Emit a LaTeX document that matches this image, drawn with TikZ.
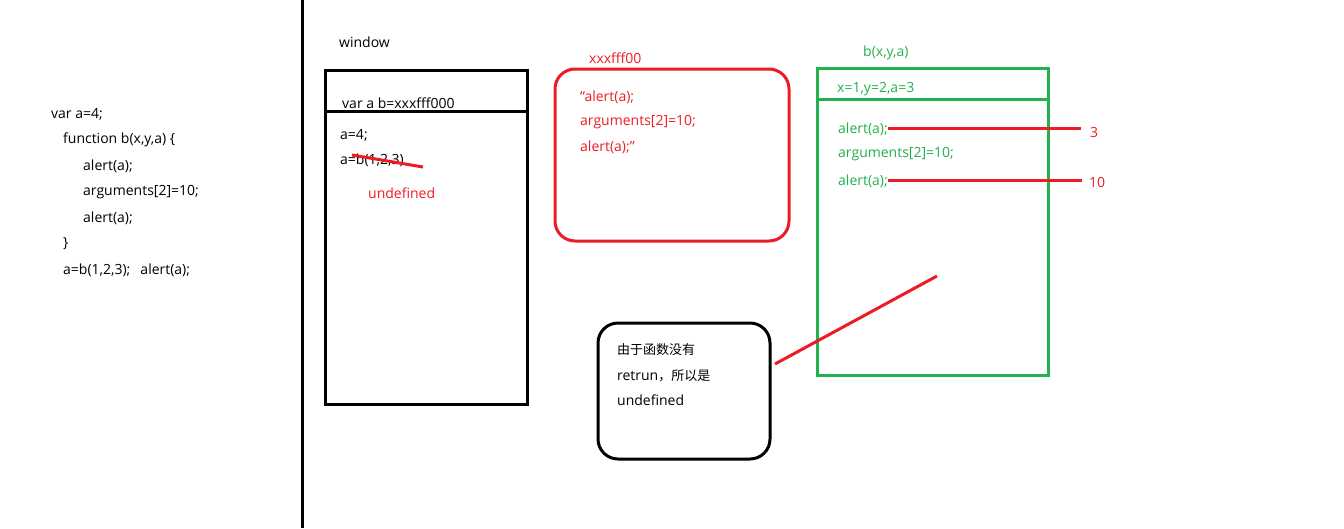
\documentclass[tikz,border=0pt]{standalone}
\usepackage{fontspec}
\setmainfont{Open Sans}
\newfontfamily\cjk{Noto Sans CJK SC}
\definecolor{pred}{HTML}{ED1C24}
\definecolor{pgreen}{HTML}{22B14C}
\newcommand\cjkt{\cjk\fontsize{13}{15}\selectfont}
\begin{document}
\begin{tikzpicture}[x=1pt,y=-1pt,
  txt/.style={anchor=west,inner sep=0pt,font=\fontsize{14}{16}\selectfont},
  rtxt/.style={txt,text=pred},
  gtxt/.style={txt,text=pgreen},
  bbox/.style={draw=black,line width=3pt},
  rline/.style={draw=pred,line width=3pt}]
\useasboundingbox (0,0) rectangle (1344,528);
% divider
\coordinate (dt) at (302,0); \coordinate (db) at (302,528);
\draw[line width=3pt] (dt) -- (db);
% left code
\node[txt] (c1) at (51,114) {var a=4;};
\node[txt] (c2) at (63,140) {function b(x,y,a) \{};
\node[txt] (c3) at (83,166) {alert(a);};
\node[txt] (c4) at (83,192) {arguments[2]=10;};
\node[txt] (c5) at (83,218) {alert(a);};
\node[txt] (c6) at (63,244) {\}};
\node[txt] (c7) at (63,270) {a=b(1,2,3);\hspace{10pt}alert(a);};
% window box
\node[txt] (wl) at (339,42) {window};
\draw[bbox] (325,70) rectangle (527,404);
\draw[bbox] (325,111) -- (527,111);
\node[txt] (w1) at (342,103) {var a b=xxxfff000};
\node[txt] (w2) at (340,135) {a=4;};
\node[txt] (w3) at (340,160) {a=b(1,2,3)};
\coordinate (s1) at (352,155); \coordinate (s2) at (423,167);
\draw[rline] (s1) -- (s2);
\node[rtxt] (w4) at (368,193) {undefined};
% red function box
\node[rtxt] (fl) at (589,58) {xxxfff00};
\draw[draw=pred,line width=3pt,rounded corners=20pt] (555,69) rectangle (789,241);
\node[rtxt] (f1) at (580,97) {“alert(a);};
\node[rtxt] (f2) at (580,122) {arguments[2]=10;};
\node[rtxt] (f3) at (580,147) {alert(a);”};
% green box
\node[gtxt] (gl) at (863,53) {b(x,y,a)};
\draw[draw=pgreen,line width=3pt] (817,68) rectangle (1048,375);
\draw[draw=pgreen,line width=3pt] (817,99) -- (1048,99);
\node[gtxt] (g0) at (837,89) {x=1,y=2,a=3};
\node[gtxt] (g1) at (838,129) {alert(a);};
\node[gtxt] (g2) at (838,154) {arguments[2]=10;};
\node[gtxt] (g3) at (838,181) {alert(a);};
\node[rtxt] (r1) at (1090,132) {3};
\node[rtxt] (r2) at (1089,182) {10};
\coordinate (e1) at (1081,128); \coordinate (e2) at (1082,180);
\draw[rline] (g1.east |- e1) -- (e1);
\draw[rline] (g3.east |- e2) -- (e2);
% note box
\draw[bbox,rounded corners=20pt] (598,323) rectangle (770,459);
\node[txt] (n1) at (617,350) {\cjkt 由于函数没有};
\node[txt] (n2) at (617,376) {retrun{\cjkt ，所以是}};
\node[txt] (n3) at (617,400) {undefined};
\coordinate (l1) at (775,364); \coordinate (l2) at (937,276);
\draw[rline] (l1) -- (l2);
\end{tikzpicture}
\end{document}
